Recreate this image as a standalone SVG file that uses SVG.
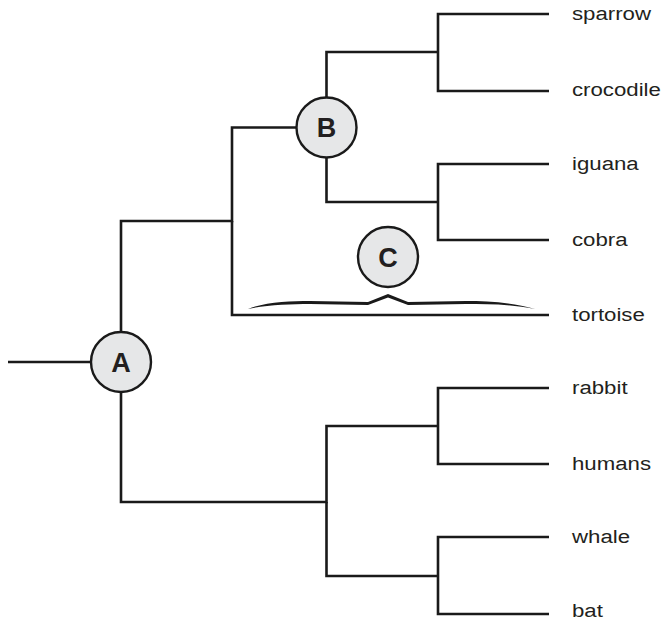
<svg xmlns="http://www.w3.org/2000/svg" width="665" height="620" viewBox="0 0 665 620">
<style>
.ln{fill:none;stroke:#1a1a1a;stroke-width:2.6;stroke-linecap:butt;stroke-linejoin:miter}
.nd{fill:#e6e7e8;stroke:#1a1a1a;stroke-width:2.4}
.lt{font-family:"Liberation Sans",Arial,sans-serif;font-weight:bold;font-size:27px;fill:#231f20;text-anchor:middle}
.lb{font-family:"Liberation Sans",Arial,sans-serif;font-size:19px;fill:#231f20}
</style>
<rect width="665" height="620" fill="#fff"/>
<g id="connectors">
<path class="ln" d="M8,362 H91"/>
<path class="ln" d="M121,332 V221 H232 V127.5 H296"/>
<path class="ln" d="M232,221 V315 H549"/>
<path class="ln" d="M326.5,97.5 V52 H438 V14 H549 M438,52 V91 H549"/>
<path class="ln" d="M326.5,157.5 V202 H438 V164 H549 M438,202 V240 H549"/>
<path class="ln" d="M121,392 V502 H326.5 V426 H438 V388 H549 M438,426 V464 H549"/>
<path class="ln" d="M326.5,502 V576 H438 V537 H549 M438,576 V614 H549"/>
<path fill="#1a1a1a" d="M248,309 C265,302 290,301 310,301 L368,302 L388,294 L408,302 L466,301 C486,301 511,302 535,309 C511,304 486,304 466,304 L408,305 L388,297.5 L368,305 L310,304 C290,304 265,305 248,309 Z"/>
</g>
<g id="node-A"><circle class="nd" cx="121" cy="362" r="30"/><text class="lt" x="121" y="371.7">A</text></g>
<g id="node-B"><circle class="nd" cx="326.5" cy="127.5" r="30"/><text class="lt" x="326.5" y="137.2">B</text></g>
<g id="node-C"><circle class="nd" cx="388" cy="257" r="30"/><text class="lt" x="388" y="266.7">C</text></g>
<g id="labels" transform="translate(572,0) scale(1.17,1)">
<text class="lb" x="0" y="20.5">sparrow</text>
<text class="lb" x="0" y="96.5">crocodile</text>
<text class="lb" x="0" y="170">iguana</text>
<text class="lb" x="0" y="246">cobra</text>
<text class="lb" x="0" y="321">tortoise</text>
<text class="lb" x="0" y="394">rabbit</text>
<text class="lb" x="0" y="470">humans</text>
<text class="lb" x="0" y="543">whale</text>
<text class="lb" x="0" y="617">bat</text>
</g>
</svg>
